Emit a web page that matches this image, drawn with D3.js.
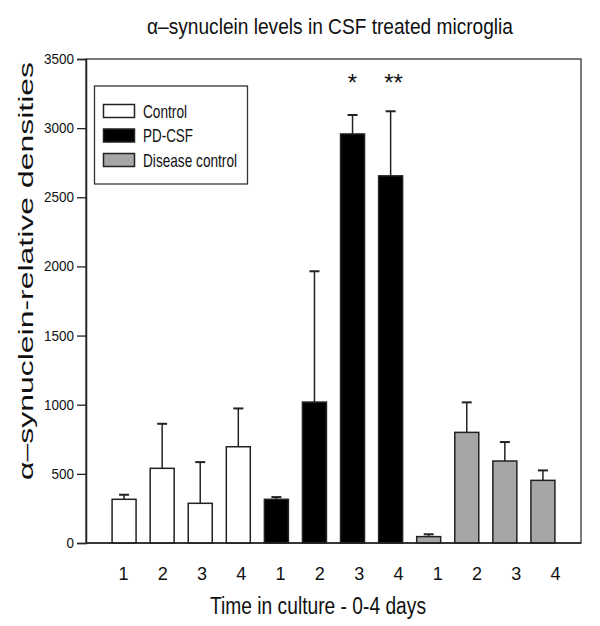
<!DOCTYPE html>
<html>
<head>
<meta charset="utf-8">
<script src="https://cdn.jsdelivr.net/npm/d3@7"></script>
<style>
  html, body { margin: 0; padding: 0; background: #fff; }
  svg { display: block; }
  text { font-family: "Liberation Sans", Arial, sans-serif; fill: #111; }
</style>
</head>
<body>
<svg id="chart" width="600" height="626"></svg>
<script>
// ---- data ----
const groups = ["Control", "PD-CSF", "Disease control"];
const days = ["1", "2", "3", "4"];
const controlMean = [316, 540, 287, 696];
const controlErr  = [33, 322, 298, 277];
const pdMean      = [316, 1019, 2958, 2655];
const pdErr       = [16, 946, 137, 467];
const diseaseMean = [46, 800, 593, 453];
const diseaseErr  = [17, 217, 137, 72];
const pdStars     = ["", "", "*", "**"];
const yTicks      = [0, 500, 1000, 1500, 2000, 2500, 3000, 3500];
const groupFills  = ["#ffffff", "#000000", "#a6a6a6"];

const titleText = "\u03B1\u2013synuclein levels in CSF treated microglia";
const yTitle = "\u03B1\u2013synuclein-relative densities";
const xTitle = "Time in culture - 0-4 days";

// build flat bar list
const means = [controlMean, pdMean, diseaseMean];
const errs = [controlErr, pdErr, diseaseErr];
const stars = [["", "", "", ""], pdStars, ["", "", "", ""]];
const bars = [];
groups.forEach((g, gi) => days.forEach((d, di) => {
  bars.push({id: gi * 4 + di, group: gi, day: d, mean: means[gi][di], err: errs[gi][di], star: stars[gi][di]});
}));

// ---- layout ----
const svg = d3.select("#chart");
const pL = 86, pR = 581, pT = 59, pB = 543;

const x = d3.scaleBand().domain(bars.map(b => b.id)).range([pL, pR])
  .paddingInner(0.37).paddingOuter(0.685);
const xLab = d3.scalePoint().domain(bars.map(b => b.id)).range([123, 555]);
const y = d3.scaleLinear().domain([0, 3500]).range([pB, pT]);

// frame
svg.append("rect").attr("x", pL).attr("y", pT)
  .attr("width", pR - pL).attr("height", pB - pT)
  .attr("fill", "none").attr("stroke", "#333").attr("stroke-width", 1.3);

// bars
svg.append("g").selectAll("rect").data(bars).join("rect")
  .attr("x", d => x(d.id)).attr("width", x.bandwidth())
  .attr("y", d => y(d.mean)).attr("height", d => y(0) - y(d.mean))
  .attr("fill", d => groupFills[d.group])
  .attr("stroke", "#222").attr("stroke-width", 1.5);

// error bars
const eb = svg.append("g").attr("stroke", "#222").attr("stroke-width", 1.5);
eb.selectAll("line.v").data(bars).join("line").attr("class", "v")
  .attr("x1", d => x(d.id) + x.bandwidth() / 2).attr("x2", d => x(d.id) + x.bandwidth() / 2)
  .attr("y1", d => y(d.mean)).attr("y2", d => y(d.mean + d.err));
eb.selectAll("line.c").data(bars).join("line").attr("class", "c")
  .attr("x1", d => x(d.id) + x.bandwidth() / 2 - 5).attr("x2", d => x(d.id) + x.bandwidth() / 2 + 5)
  .attr("y1", d => y(d.mean + d.err)).attr("y2", d => y(d.mean + d.err))
  .attr("stroke-width", 2);

// stars
svg.append("g").selectAll("text").data(bars.filter(b => b.star)).join("text")
  .attr("x", d => x(d.id) + x.bandwidth() / 2 + (d.star.length > 1 ? 3 : 0))
  .attr("y", 91).attr("text-anchor", "middle")
  .attr("font-size", 24).text(d => d.star);

// axes
const yAxis = svg.append("g").attr("transform", `translate(${pL},0)`)
  .call(d3.axisLeft(y).tickValues(yTicks).tickSize(9).tickPadding(3).tickFormat(d3.format("d")));
yAxis.select(".domain").attr("stroke", "#222").attr("stroke-width", 1.5);
yAxis.selectAll(".tick line").attr("stroke", "#222").attr("stroke-width", 1.3);
yAxis.selectAll(".tick text").attr("font-size", 14).attr("fill", "#222")
  .attr("textLength", d => String(d).length * 7.5).attr("lengthAdjust", "spacingAndGlyphs")
  .style("font-family", "'Liberation Sans', Arial, sans-serif");

const xAxis = svg.append("g").attr("transform", `translate(0,${pB})`)
  .call(d3.axisBottom(xLab).tickSize(0).tickPadding(24).tickFormat(id => bars[id].day));
xAxis.select(".domain").remove();
svg.append("line").attr("x1", pL).attr("x2", pR).attr("y1", pB).attr("y2", pB)
  .attr("stroke", "#222").attr("stroke-width", 1.5);
xAxis.selectAll(".tick text").attr("font-size", 18).attr("fill", "#222")
  .style("font-family", "'Liberation Sans', Arial, sans-serif");

// titles
svg.append("text").attr("x", 330).attr("y", 34).attr("text-anchor", "middle")
  .attr("font-size", 22).attr("textLength", 366).attr("lengthAdjust", "spacingAndGlyphs")
  .text(titleText);
svg.append("text").attr("x", 318).attr("y", 614).attr("text-anchor", "middle")
  .attr("font-size", 23).attr("textLength", 216).attr("lengthAdjust", "spacingAndGlyphs")
  .text(xTitle);
svg.append("text").attr("transform", "translate(33,271) rotate(-90)").attr("text-anchor", "middle")
  .attr("font-size", 21).attr("textLength", 418).attr("lengthAdjust", "spacingAndGlyphs")
  .text(yTitle);

// legend
const lg = svg.append("g");
lg.append("rect").attr("x", 94.5).attr("y", 86).attr("width", 153).attr("height", 98)
  .attr("fill", "#fff").attr("stroke", "#333").attr("stroke-width", 1.3);
const legendLens = [44, 50, 94];
const rowY = d3.scalePoint().domain(groups).range([111, 160]);
groups.forEach((g, i) => {
  lg.append("rect").attr("x", 103.5).attr("y", rowY(g) - 6.5).attr("width", 31).attr("height", 13)
    .attr("fill", groupFills[i]).attr("stroke", "#222").attr("stroke-width", 1.5);
  lg.append("text").attr("x", 143).attr("y", rowY(g) + 6.5)
    .attr("font-size", 19).attr("textLength", legendLens[i]).attr("lengthAdjust", "spacingAndGlyphs")
    .text(g);
});
</script>
</body>
</html>
